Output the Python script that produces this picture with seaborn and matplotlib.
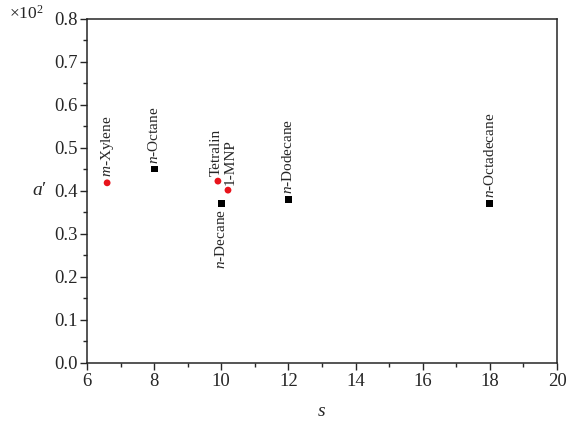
import matplotlib
matplotlib.use("Agg")
import matplotlib.pyplot as plt
import seaborn as sns
import pandas as pd
from matplotlib.ticker import MultipleLocator

names = ["m-Xylene", "n-Octane", "Tetralin", "1-MNP", "n-Decane", "n-Dodecane", "n-Octadecane"]
labels = [r"$\it{m}$-Xylene", r"$\it{n}$-Octane", "Tetralin", "1-MNP",
          r"$\it{n}$-Decane", r"$\it{n}$-Dodecane", r"$\it{n}$-Octadecane"]
s_vals = [6.6, 8.0, 9.9, 10.2, 10.0, 12.0, 18.0]
a_vals = [0.419, 0.451, 0.423, 0.402, 0.370, 0.381, 0.370]
kind = ["aromatic", "alkane", "aromatic", "aromatic", "alkane", "alkane", "alkane"]
label_side = ["above", "above", "above", "above", "below", "above", "above"]
label_dx = [0, 0, -1.5, 1.5, 0, 0, 0]

df = pd.DataFrame({"name": names, "s": s_vals, "a": a_vals, "kind": kind})

sns.set_style("ticks")
plt.rcParams["font.family"] = ["Liberation Serif", "DejaVu Serif"]
plt.rcParams["mathtext.fontset"] = "custom"
plt.rcParams["mathtext.rm"] = "Liberation Serif"
plt.rcParams["mathtext.it"] = "Liberation Serif:italic"

fig = plt.figure(figsize=(5.67, 4.24), dpi=100)
ax = fig.add_axes([0.1534, 0.1439, 0.829, 0.8113])

sns.scatterplot(data=df, x="s", y="a", hue="kind", style="kind",
                palette={"aromatic": "#e8141c", "alkane": "black"},
                markers={"aromatic": "o", "alkane": "s"},
                s=24, edgecolor="none", legend=False, ax=ax)

for lab, x, y, side, dx in zip(labels, s_vals, a_vals, label_side, label_dx):
    if side == "above":
        ax.annotate(lab, (x, y), xytext=(dx, 4), textcoords="offset points",
                    rotation=90, ha="center", va="bottom", fontsize=11)
    else:
        ax.annotate(lab, (x, y), xytext=(dx, -4), textcoords="offset points",
                    rotation=90, ha="center", va="top", fontsize=11)

ax.set_xlim(6, 20)
ax.set_ylim(0, 0.8)
ax.xaxis.set_major_locator(MultipleLocator(2))
ax.xaxis.set_minor_locator(MultipleLocator(1))
ax.yaxis.set_major_locator(MultipleLocator(0.1))
ax.yaxis.set_minor_locator(MultipleLocator(0.05))
ax.yaxis.set_major_formatter(matplotlib.ticker.FormatStrFormatter("%.1f"))
ax.tick_params(which="major", direction="out", length=5, width=1, labelsize=13.5, pad=2)
ax.tick_params(which="minor", direction="out", length=3, width=1)
for sp in ax.spines.values():
    sp.set_linewidth(1.1)
    sp.set_visible(True)

ax.set_xlabel(r"$\it{s}$", fontsize=14)
ax.xaxis.set_label_coords(0.5, -0.115)
ax.set_ylabel(r"$\it{a}$′", fontsize=14, rotation=0, va="center", ha="center")
ax.yaxis.set_label_coords(-0.10, 0.5)
fig.text(0.015, 0.967, r"$\times10^2$", fontsize=12.5, va="center", ha="left")

fig.savefig("out.png", dpi=100)
